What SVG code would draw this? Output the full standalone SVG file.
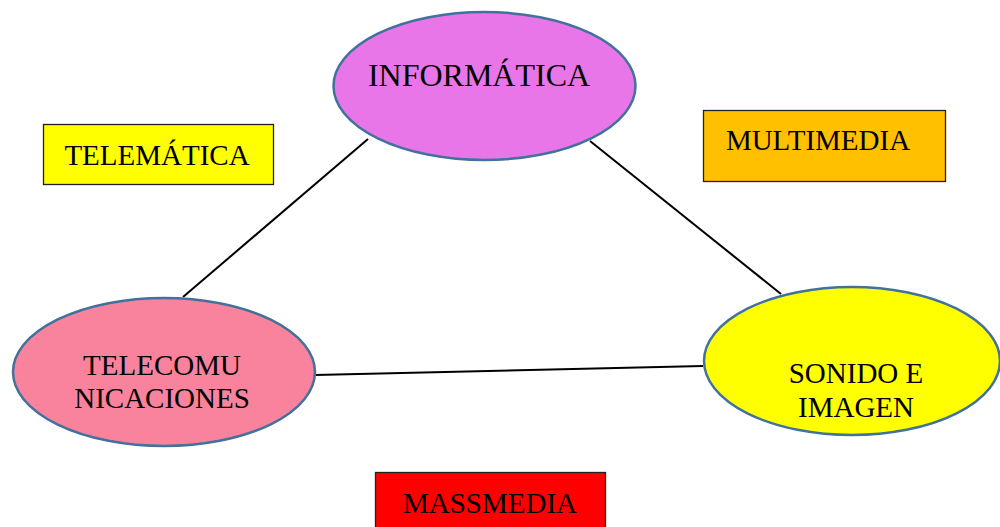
<svg xmlns="http://www.w3.org/2000/svg" width="1000" height="527" viewBox="0 0 1000 527">
<style>
.t{font-family:"Liberation Serif","Times New Roman",serif;fill:#000;text-anchor:middle;font-size:29px}
.el{stroke:#41719C;stroke-width:2.5}
.bx{stroke:#222;stroke-width:1.3}
.ln{stroke:#000;stroke-width:2;fill:none}
</style>
<rect width="1000" height="527" fill="#fff"/>
<g id="connectors">
<line class="ln" x1="368" y1="139" x2="183" y2="297"/>
<line class="ln" x1="590" y1="141" x2="781" y2="294"/>
<line class="ln" x1="315" y1="375" x2="703" y2="366"/>
</g>
<g id="informatica">
<ellipse class="el" cx="484.5" cy="86" rx="151" ry="74" fill="#E876E8"/>
<text class="t" x="479" y="86" style="font-size:32px">INFORMÁTICA</text>
</g>
<g id="telecomunicaciones">
<ellipse class="el" cx="164" cy="372" rx="151" ry="74" fill="#F9829C"/>
<text class="t" x="162" y="375">TELECOMU</text>
<text class="t" x="162" y="408">NICACIONES</text>
</g>
<g id="sonido">
<ellipse class="el" cx="852" cy="361" rx="148" ry="74" fill="#FFFF00"/>
<text class="t" x="856" y="383">SONIDO E</text>
<text class="t" x="856" y="417">IMAGEN</text>
</g>
<g id="telematica">
<rect class="bx" x="43.5" y="124.5" width="230" height="60" fill="#FFFF00"/>
<text class="t" x="157" y="165">TELEMÁTICA</text>
</g>
<g id="multimedia">
<rect class="bx" x="703.5" y="110.5" width="242" height="71" fill="#FFC000"/>
<text class="t" x="818" y="150">MULTIMEDIA</text>
</g>
<g id="massmedia">
<rect class="bx" x="375.5" y="472.5" width="230" height="60" fill="#FF0000"/>
<text class="t" x="490" y="513">MASSMEDIA</text>
</g>
</svg>
